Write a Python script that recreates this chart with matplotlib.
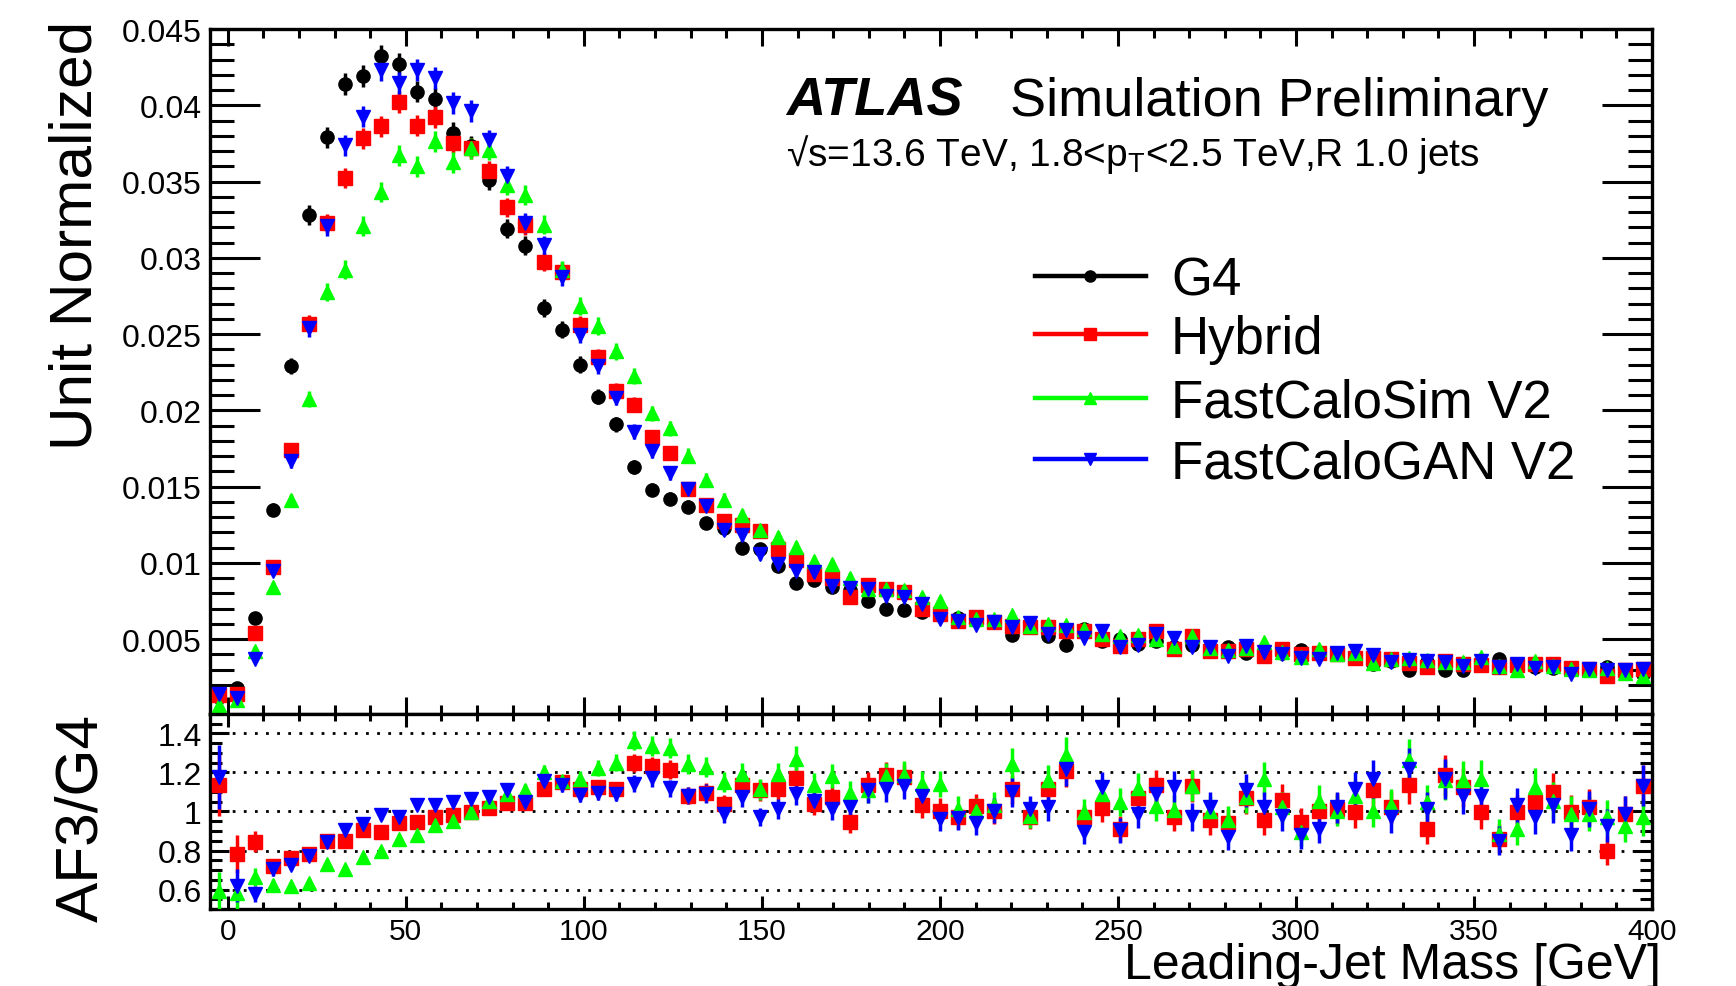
import numpy as np
import matplotlib
matplotlib.use("Agg")
import matplotlib.pyplot as plt
from matplotlib.lines import Line2D
from matplotlib.ticker import MultipleLocator
from matplotlib import font_manager

plt.rcParams['font.family'] = ['Liberation Sans', 'DejaVu Sans']
plt.rcParams['mathtext.fontset'] = 'custom'
plt.rcParams['mathtext.rm'] = 'Liberation Sans'
plt.rcParams['mathtext.it'] = 'Liberation Sans:italic'
plt.rcParams['mathtext.bf'] = 'Liberation Sans:bold'

# binning of the leading-jet mass histogram (80 bins, -5 .. 400 GeV)
mass_lo, mass_hi, n_bins = -5.0, 400.0, 80

# G4 unit-normalised distribution, one value per bin
g4 = [0.0012, 0.0018, 0.0064, 0.0135, 0.0229, 0.0328, 0.0379, 0.0414, 0.0419, 0.0432,
      0.0427, 0.0409, 0.0404, 0.0382, 0.0373, 0.0351, 0.0319, 0.0308, 0.0267, 0.0253,
      0.0230, 0.0209, 0.0191, 0.0163, 0.0148, 0.0142, 0.0137, 0.0126, 0.0123, 0.0110,
      0.0109, 0.0098, 0.0087, 0.0089, 0.0084, 0.0082, 0.0075, 0.0070, 0.0069, 0.0068,
      0.0066, 0.0064, 0.0063, 0.0061, 0.0053, 0.0060, 0.0052, 0.0046, 0.0057, 0.0049,
      0.0050, 0.0047, 0.0049, 0.0045, 0.0046, 0.0044, 0.0045, 0.0041, 0.0041, 0.0041,
      0.0043, 0.0041, 0.0040, 0.0038, 0.0034, 0.0036, 0.0030, 0.0035, 0.0030, 0.0030,
      0.0033, 0.0037, 0.0033, 0.0032, 0.0031, 0.0031, 0.0030, 0.0032, 0.0030, 0.0027]

# AF3 / G4 ratios
ratio_hybrid = [1.137, 0.783, 0.846, 0.723, 0.761, 0.783, 0.851, 0.851, 0.903, 0.894,
                0.942, 0.945, 0.971, 0.983, 0.997, 1.017, 1.044, 1.044, 1.113, 1.150,
                1.113, 1.125, 1.113, 1.250, 1.232, 1.213, 1.082, 1.096, 1.039, 1.137,
                1.108, 1.116, 1.171, 1.039, 1.074, 0.945, 1.137, 1.188, 1.176, 1.031,
                1.005, 0.971, 1.027, 1.000, 1.113, 0.971, 1.113, 1.210, 0.971, 1.017,
                0.911, 1.069, 1.135, 0.971, 1.130, 0.954, 0.940, 1.070, 0.954, 1.060,
                0.945, 1.005, 1.014, 0.997, 1.111, 1.022, 1.138, 0.911, 1.185, 1.125,
                0.997, 0.860, 0.997, 1.048, 1.099, 0.997, 1.022, 0.800, 0.988, 1.133]

ratio_fcs = [0.590, 0.580, 0.663, 0.624, 0.617, 0.632, 0.732, 0.706, 0.766, 0.795,
             0.860, 0.880, 0.932, 0.949, 0.997, 1.056, 1.091, 1.108, 1.205, 1.154,
             1.168, 1.222, 1.250, 1.364, 1.338, 1.325, 1.244, 1.227, 1.150, 1.193,
             1.113, 1.193, 1.270, 1.137, 1.181, 1.096, 1.108, 1.181, 1.188, 1.142,
             1.142, 1.014, 1.005, 1.034, 1.244, 0.979, 1.159, 1.291, 0.997, 1.091,
             1.048, 1.118, 1.026, 1.009, 1.133, 1.005, 0.954, 1.074, 1.168, 1.022,
             0.894, 1.056, 1.005, 1.077, 1.005, 1.031, 1.262, 1.048, 1.159, 1.159,
             1.168, 0.885, 0.911, 1.125, 1.056, 0.988, 0.988, 0.971, 0.928, 0.971]

ratio_gan = [1.176, 0.620, 0.578, 0.703, 0.728, 0.774, 0.846, 0.903, 0.937, 0.980,
             0.971, 1.034, 1.034, 1.051, 1.062, 1.074, 1.108, 1.048, 1.154, 1.137,
             1.085, 1.096, 1.091, 1.142, 1.171, 1.118, 1.082, 1.091, 0.988, 1.074,
             0.971, 1.014, 1.091, 1.056, 1.014, 1.022, 1.108, 1.116, 1.130, 1.079,
             0.962, 0.966, 0.942, 1.005, 1.099, 1.014, 1.022, 1.219, 0.894, 1.125,
             0.903, 0.988, 1.088, 1.128, 0.971, 1.022, 0.868, 1.108, 1.022, 0.979,
             0.877, 0.911, 1.022, 1.116, 1.168, 0.971, 1.219, 1.014, 1.168, 1.082,
             1.082, 0.851, 1.031, 0.971, 1.031, 0.877, 1.014, 0.928, 0.988, 1.133]

labels = ["G4", "Hybrid", "FastCaloSim V2", "FastCaloGAN V2"]
colors = ["black", "#ff0000", "#00ff00", "#0000ff"]
markers = ["o", "s", "^", "v"]

# rough number of events per sample, only used for the statistical error bars
n_events = 80000

edges = np.linspace(mass_lo, mass_hi, n_bins + 1)
centers = 0.5 * (edges[:-1] + edges[1:])
g4 = np.array(g4)
ratios = [np.array(ratio_hybrid), np.array(ratio_fcs), np.array(ratio_gan)]


def stat_err(v):
    return np.sqrt(v / n_events)


fig = plt.figure(figsize=(17.36, 9.87), dpi=100)
ax = fig.add_axes([0.121, 0.2756, 0.8306, 0.694])
rax = fig.add_axes([0.121, 0.078, 0.8306, 0.1976])

ms = 9.5
ax.errorbar(centers, g4, yerr=stat_err(g4), fmt=markers[0], color=colors[0],
            ms=ms, elinewidth=2.5, capsize=0, zorder=3)
for r, col, mk in zip(ratios, colors[1:], markers[1:]):
    vals = g4 * r
    ax.errorbar(centers, vals, yerr=stat_err(vals), fmt=mk, color=col, mec=col,
                ms=ms, elinewidth=2.5, capsize=0, zorder=3)
    rerr = r * np.sqrt(1.0 / (vals * n_events) + 1.0 / (g4 * n_events))
    rax.errorbar(centers, r, yerr=rerr, fmt=mk, color=col, mec=col,
                 ms=ms, elinewidth=2.5, capsize=0, zorder=3)

for v in [0.6, 0.8, 1.0, 1.2, 1.4]:
    rax.axhline(v, color="black", lw=2.0, ls=(0, (1, 3)), zorder=1)

# axes ranges and ROOT-like ticks
for a in (ax, rax):
    a.set_xlim(mass_lo, mass_hi)
    a.xaxis.set_major_locator(MultipleLocator(50))
    a.xaxis.set_minor_locator(MultipleLocator(10))
    a.tick_params(which="both", direction="in", top=True, right=True, width=2.2)
    for s in a.spines.values():
        s.set_linewidth(2.4)

ax.set_ylim(0.0001, 0.045)
ax.set_yticks([0.005, 0.01, 0.015, 0.02, 0.025, 0.03, 0.035, 0.04, 0.045])
ax.set_yticklabels(["0.005", "0.01", "0.015", "0.02", "0.025", "0.03", "0.035", "0.04", "0.045"])
ax.yaxis.set_minor_locator(MultipleLocator(0.001))
ax.tick_params(axis="y", which="major", length=36, labelsize=23, pad=6)
ax.tick_params(axis="y", which="minor", length=17)
ax.tick_params(axis="x", which="major", length=12, labelbottom=False)
ax.tick_params(axis="x", which="minor", length=6.5)

rax.set_ylim(0.5, 1.5)
rax.set_yticks([0.6, 0.8, 1.0, 1.2, 1.4])
rax.set_yticklabels(["0.6", "0.8", "1", "1.2", "1.4"])
rax.yaxis.set_minor_locator(MultipleLocator(0.05))
rax.tick_params(axis="y", which="major", length=14, labelsize=23, pad=6)
rax.tick_params(axis="y", which="minor", length=8.5)
rax.tick_params(axis="x", which="major", length=9.5, labelsize=21.5, pad=6)
rax.tick_params(axis="x", which="minor", length=5)

# axis titles (ROOT style, condensed where possible)
has_narrow = any("Liberation Sans Narrow" == f.name for f in font_manager.fontManager.ttflist)
if has_narrow:
    ytitle = dict(family=["Liberation Sans Narrow", "DejaVu Sans"], fontsize=47)
else:
    ytitle = dict(fontsize=43.5)
fig.text(0.044, 0.979, "Unit Normalized", rotation=90, ha="center", va="top", **ytitle)
fig.text(0.047, 0.277, "AF3/G4", rotation=90, ha="center", va="top", **ytitle)
fig.text(0.957, 0.008, "Leading-Jet Mass [GeV]", ha="right", va="baseline", fontsize=36)

# ATLAS label
fig.text(0.4528, 0.8825, "ATLAS", fontsize=39, fontweight="bold", fontstyle="italic", va="baseline")
fig.text(0.5818, 0.8825, "Simulation Preliminary", fontsize=39, va="baseline")
fig.text(0.4528, 0.832, "\u221as=13.6 TeV, 1.8<$\\mathrm{p}_{\\mathrm{T}}$<2.5 TeV,R 1.0 jets",
         fontsize=28, va="baseline")

# legend
rows = [0.7194, 0.6606, 0.5957, 0.5339]
for y, lab, col, mk in zip(rows, labels, colors, markers):
    fig.add_artist(Line2D([0.5962, 0.6601], [y, y], transform=fig.transFigure,
                          color=col, lw=3.2))
    fig.add_artist(Line2D([0.628], [y], transform=fig.transFigure, color=col,
                          marker=mk, ms=8, mec=col, ls="none"))
    fig.text(0.6745, y - 0.0192, lab, fontsize=38, va="baseline")

fig.savefig("out.png", dpi=100)
